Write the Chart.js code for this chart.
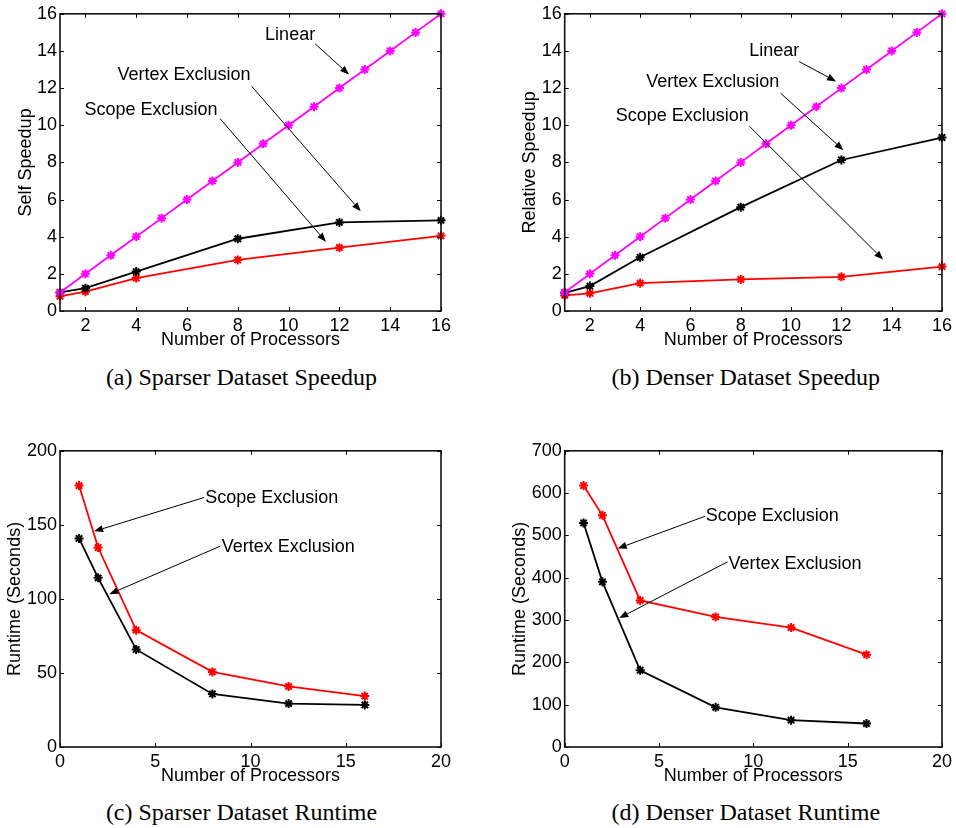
<!DOCTYPE html>
<html><head><meta charset="utf-8">
<script src="https://cdn.jsdelivr.net/npm/chart.js@4/dist/chart.umd.min.js"></script>
<style>
html,body{margin:0;padding:0;background:#fff;width:956px;height:828px;overflow:hidden}
canvas{position:absolute}
.cap{position:absolute;font-family:"Liberation Serif","Times New Roman",serif;font-size:24px;line-height:24px;height:24px;color:#000;text-align:center;white-space:nowrap;width:400px}
</style></head><body>
<canvas id="ca" width="478" height="355" style="left:0;top:0"></canvas>
<canvas id="cb" width="478" height="355" style="left:478px;top:0"></canvas>
<canvas id="cc" width="478" height="355" style="left:0;top:437px"></canvas>
<canvas id="cd" width="478" height="355" style="left:478px;top:437px"></canvas>
<div class="cap" style="left:41.5px;top:365px">(a) Sparser Dataset Speedup</div>
<div class="cap" style="left:545.8px;top:365px">(b) Denser Dataset Speedup</div>
<div class="cap" style="left:41.5px;top:800px">(c) Sparser Dataset Runtime</div>
<div class="cap" style="left:545.8px;top:800px">(d) Denser Dataset Runtime</div>
<script>
// ---- data ----
const procs = [1, 2, 4, 8, 12, 16];
const procsLinear = [1, 2, 3, 4, 5, 6, 7, 8, 9, 10, 11, 12, 13, 14, 15, 16];
const linearSpeedup = [1, 2, 3, 4, 5, 6, 7, 8, 9, 10, 11, 12, 13, 14, 15, 16];

const vertexSpeedSparse = [1.00, 1.23, 2.12, 3.89, 4.77, 4.88];
const scopeSpeedSparse  = [0.79, 1.04, 1.77, 2.75, 3.41, 4.05];
const vertexSpeedDense  = [0.98, 1.34, 2.89, 5.59, 8.13, 9.34];
const scopeSpeedDense   = [0.84, 0.95, 1.50, 1.70, 1.84, 2.39];

const scopeRunSparse  = [176.5, 134.7, 78.9, 50.7, 40.9, 34.4];
const vertexRunSparse = [140.8, 114.2, 65.9, 35.8, 29.3, 28.4];
const scopeRunDense   = [617.9, 547.5, 346.5, 307.4, 282.3, 218.2];
const vertexRunDense  = [529.5, 390.3, 181.4, 93.9, 63.4, 55.5];

const speedXTicks = [2, 4, 6, 8, 10, 12, 14, 16];
const speedYTicks = [0, 2, 4, 6, 8, 10, 12, 14, 16];
const runXTicks = [0, 5, 10, 15, 20];
const runYTicksSparse = [0, 50, 100, 150, 200];
const runYTicksDense = [0, 100, 200, 300, 400, 500, 600, 700];

const seriesNames = ['Linear', 'Vertex Exclusion', 'Scope Exclusion'];

// ---- styling ----
const SANS = '"Liberation Sans", Arial, Helvetica, sans-serif';
Chart.defaults.color = '#000';
Chart.defaults.font.family = SANS;
Chart.defaults.font.size = 18;

const framePlugin = {
  id: 'frame',
  afterDraw(chart, args, o) {
    const ctx = chart.ctx, a = chart.chartArea;
    const xs = chart.scales.x, ys = chart.scales.y;
    ctx.save();
    // inward ticks
    ctx.strokeStyle = '#000'; ctx.lineWidth = 1;
    ctx.beginPath();
    o.xTicks.forEach(v => {
      const p = Math.round(xs.getPixelForValue(v)) + 0.5;
      ctx.moveTo(p, a.bottom); ctx.lineTo(p, a.bottom - 4);
      ctx.moveTo(p, a.top); ctx.lineTo(p, a.top + 4);
    });
    o.yTicks.forEach(v => {
      const p = Math.round(ys.getPixelForValue(v)) + 0.5;
      ctx.moveTo(a.left, p); ctx.lineTo(a.left + 4, p);
      ctx.moveTo(a.right, p); ctx.lineTo(a.right - 4, p);
    });
    ctx.stroke();
    // box
    ctx.lineWidth = 1.6; ctx.strokeStyle = '#111';
    ctx.strokeRect(a.left, a.top, a.right - a.left, a.bottom - a.top);
    // annotations
    ctx.fillStyle = '#000'; ctx.strokeStyle = '#000';
    ctx.font = '18px ' + SANS;
    ctx.textAlign = 'center'; ctx.textBaseline = 'middle';
    o.notes.forEach(n => {
      ctx.fillText(n.text, xs.getPixelForValue(n.tx), ys.getPixelForValue(n.ty));
      const x1 = xs.getPixelForValue(n.x1), y1 = ys.getPixelForValue(n.y1);
      const x2 = xs.getPixelForValue(n.x2), y2 = ys.getPixelForValue(n.y2);
      const ang = Math.atan2(y2 - y1, x2 - x1);
      const L = 9, W = 3.5;
      const bx = x2 - L * Math.cos(ang), by = y2 - L * Math.sin(ang);
      ctx.lineWidth = 1;
      ctx.beginPath(); ctx.moveTo(x1, y1); ctx.lineTo(bx, by); ctx.stroke();
      ctx.beginPath();
      ctx.moveTo(x2, y2);
      ctx.lineTo(bx + W * Math.sin(ang), by - W * Math.cos(ang));
      ctx.lineTo(bx - W * Math.sin(ang), by + W * Math.cos(ang));
      ctx.closePath(); ctx.fill();
    });
    ctx.restore();
  }
};
Chart.register(framePlugin);

function ds(label, xs, ys, color) {
  return {
    label, data: xs.map((x, i) => ({x, y: ys[i]})),
    borderColor: color, backgroundColor: color, borderWidth: 1.8,
    pointStyle: 'star', pointRadius: 4.5, pointBorderWidth: 2,
    pointBorderColor: color, tension: 0, clip: false, fill: false
  };
}

function makeChart(id, c) {
  new Chart(document.getElementById(id), {
    type: 'line',
    data: {datasets: c.datasets},
    options: {
      responsive: false, animation: false, events: [],
      layout: {padding: c.pad},
      plugins: {
        legend: {display: false}, tooltip: {enabled: false},
        frame: {xTicks: c.xTicks, yTicks: c.yTicks, notes: c.notes}
      },
      scales: {
        x: {
          type: 'linear', min: c.xMin, max: c.xMax,
          grid: {display: false, drawTicks: false}, border: {display: false},
          ticks: {autoSkip: false, maxRotation: 0, padding: 4},
          title: {display: true, text: 'Number of Processors', padding: 0},
          afterBuildTicks: s => { s.ticks = c.xTicks.map(v => ({value: v})); },
          afterFit: s => { s.height = 40; }
        },
        y: {
          type: 'linear', min: c.yMin, max: c.yMax,
          grid: {display: false, drawTicks: false}, border: {display: false},
          ticks: {autoSkip: false, padding: 3},
          title: {display: true, text: c.yTitle, padding: {top: c.yTitlePad, bottom: 0}},
          afterBuildTicks: s => { s.ticks = c.yTicks.map(v => ({value: v})); },
          afterFit: s => { s.width = c.yW; }
        }
      }
    }
  });
}

makeChart('ca', {
  datasets: [
    ds(seriesNames[0], procsLinear, linearSpeedup, '#ff00ff'),
    ds(seriesNames[1], procs, vertexSpeedSparse, '#000000'),
    ds(seriesNames[2], procs, scopeSpeedSparse, '#ff0000')
  ],
  pad: {left: 15, top: 12, right: 37, bottom: 4}, yW: 45, yTitlePad: 0,
  xMin: 1, xMax: 16, yMin: 0, yMax: 16, xTicks: speedXTicks, yTicks: speedYTicks,
  yTitle: 'Self Speedup',
  notes: [
    {text: seriesNames[0], tx: 10.06, ty: 14.87, x1: 11.04, y1: 14.39, x2: 12.38, y2: 12.73},
    {text: seriesNames[1], tx: 5.88, ty: 12.68, x1: 8.55, y1: 12.09, x2: 12.84, y2: 5.37},
    {text: seriesNames[2], tx: 4.58, ty: 10.81, x1: 7.30, y1: 10.36, x2: 11.47, y2: 3.73}
  ]
});

makeChart('cb', {
  datasets: [
    ds(seriesNames[0], procsLinear, linearSpeedup, '#ff00ff'),
    ds(seriesNames[1], procs, vertexSpeedDense, '#000000'),
    ds(seriesNames[2], procs, scopeSpeedDense, '#ff0000')
  ],
  pad: {left: 40, top: 12, right: 11, bottom: 4}, yW: 46.7, yTitlePad: 1,
  xMin: 1, xMax: 16, yMin: 0, yMax: 16, xTicks: speedXTicks, yTicks: speedYTicks,
  yTitle: 'Relative Speedup',
  notes: [
    {text: seriesNames[0], tx: 9.33, ty: 14.0, x1: 10.32, y1: 13.43, x2: 11.79, y2: 12.36},
    {text: seriesNames[1], tx: 6.89, ty: 12.31, x1: 9.58, y1: 11.73, x2: 12.08, y2: 8.66},
    {text: seriesNames[2], tx: 5.67, ty: 10.49, x1: 8.34, y1: 9.95, x2: 13.66, y2: 2.77}
  ]
});

makeChart('cc', {
  datasets: [
    ds(seriesNames[2], procs, scopeRunSparse, '#ff0000'),
    ds(seriesNames[1], procs, vertexRunSparse, '#000000')
  ],
  pad: {left: 4, top: 12, right: 37, bottom: 5}, yW: 56, yTitlePad: 0,
  xMin: 0, xMax: 20, yMin: 0, yMax: 200, xTicks: runXTicks, yTicks: runYTicksSparse,
  yTitle: 'Runtime (Seconds)',
  notes: [
    {text: seriesNames[2], tx: 11.12, ty: 168, x1: 7.57, y1: 168.5, x2: 1.79, y2: 145.6},
    {text: seriesNames[1], tx: 11.98, ty: 134.9, x1: 8.41, y1: 135.6, x2: 2.59, y2: 103.2}
  ]
});

makeChart('cd', {
  datasets: [
    ds(seriesNames[2], procs, scopeRunDense, '#ff0000'),
    ds(seriesNames[1], procs, vertexRunDense, '#000000')
  ],
  pad: {left: 31, top: 12, right: 11, bottom: 5}, yW: 55.7, yTitlePad: 0,
  xMin: 0, xMax: 20, yMin: 0, yMax: 700, xTicks: runXTicks, yTicks: runYTicksDense,
  yTitle: 'Runtime (Seconds)',
  notes: [
    {text: seriesNames[2], tx: 11.0, ty: 545, x1: 7.45, y1: 545.4, x2: 2.81, y2: 469.1},
    {text: seriesNames[1], tx: 12.21, ty: 433, x1: 8.63, y1: 437.6, x2: 2.89, y2: 304.6}
  ]
});
</script>
</body></html>
